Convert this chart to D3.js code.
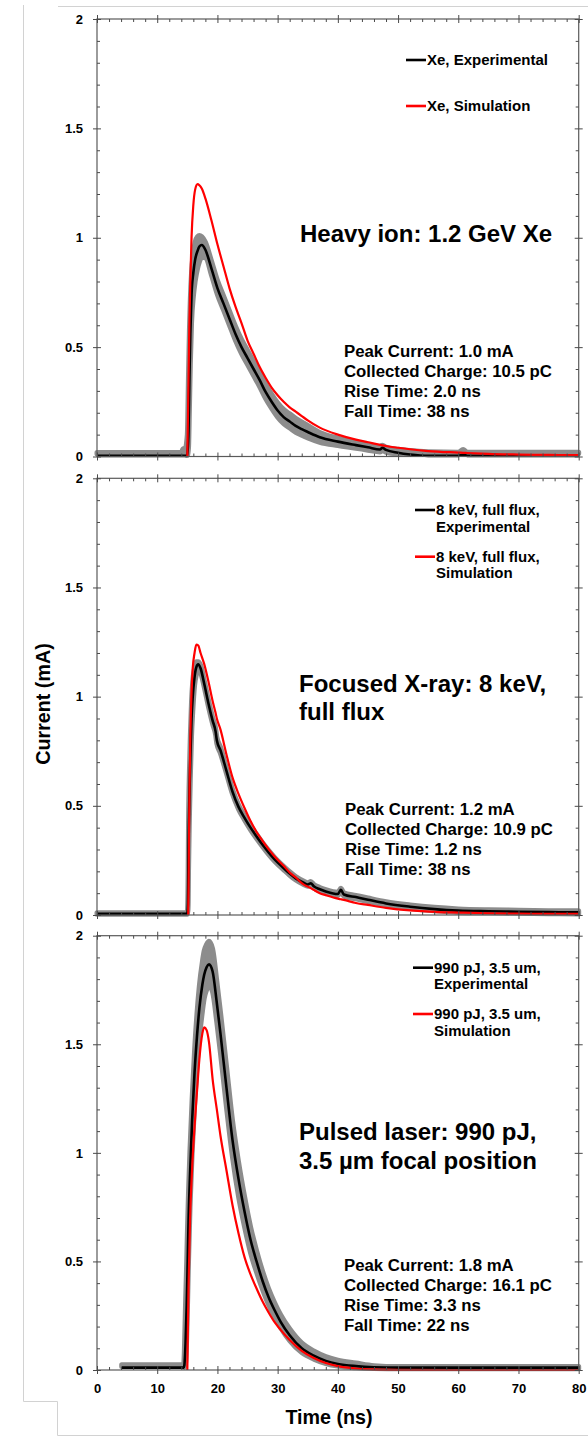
<!DOCTYPE html>
<html>
<head>
<meta charset="utf-8">
<script src="https://cdn.jsdelivr.net/npm/d3@7"></script>
<style>
  body { margin: 0; background: #fff; }
  svg { display: block; font-family: "Liberation Sans", Arial, sans-serif; font-weight: bold; }
</style>
</head>
<body>
<svg id="chart" width="588" height="1446"></svg>
<script>
// ---------- Heavy ion: 1.2 GeV Xe ----------
const timeXe = [0, 14.0, 14.3, 14.6, 15.0, 15.2, 15.35, 15.5, 15.7, 16.0, 16.3, 16.7, 17.0, 17.4,
  18, 19, 20, 21, 22, 23, 24, 25, 26, 27, 28, 29, 30, 31, 32, 33, 34, 35, 37, 40, 43, 45, 47, 47.4,
  48, 50, 52, 55, 60, 60.8, 61.5, 65, 70, 75, 80];
const expXe = [0.003, 0.003, 0.003, 0.003, 0.005, 0.12, 0.36, 0.56, 0.74, 0.84, 0.90, 0.94, 0.96, 0.967,
  0.945, 0.86, 0.77, 0.70, 0.63, 0.56, 0.50, 0.45, 0.40, 0.35, 0.295, 0.25, 0.21, 0.18, 0.16, 0.14, 0.125, 0.112,
  0.088, 0.068, 0.052, 0.042, 0.032, 0.04, 0.03, 0.017, 0.009, 0.003, 0.003, 0.008, 0.003, 0.003, 0.003, 0.003, 0.003];
const simXe = [null, null, null, null, 0, 0.35, 0.62, 0.80, 1.00, 1.15, 1.22, 1.245, 1.24, 1.225,
  1.18, 1.08, 0.97, 0.87, 0.77, 0.685, 0.61, 0.53, 0.47, 0.41, 0.36, 0.315, 0.28, 0.25, 0.225, 0.205, 0.185, 0.165,
  0.132, 0.10, 0.077, 0.065, 0.053, 0.051, 0.048, 0.04, 0.033, 0.025, 0.018, 0.017, 0.016, 0.012, 0.009, 0.007, 0.006];
const rawHiXe = [0.018, 0.018, 0.035, 0.03, 0.1, 0.38, 0.58, 0.72, 0.84, 0.93, 0.98, 1.005, 1.01, 1.005,
  0.98, 0.895, 0.805, 0.735, 0.665, 0.595, 0.535, 0.485, 0.435, 0.385, 0.33, 0.285, 0.245, 0.215, 0.195, 0.175, 0.158, 0.142,
  0.11, 0.084, 0.066, 0.056, 0.046, 0.052, 0.043, 0.033, 0.027, 0.022, 0.02, 0.032, 0.02, 0.02, 0.02, 0.02, 0.02];
const rawLoXe = [0.012, 0.012, 0.012, 0.01, 0.005, 0.04, 0.22, 0.42, 0.61, 0.73, 0.80, 0.86, 0.89, 0.91,
  0.91, 0.83, 0.74, 0.67, 0.60, 0.53, 0.47, 0.42, 0.37, 0.32, 0.265, 0.22, 0.18, 0.15, 0.13, 0.11, 0.097, 0.085,
  0.065, 0.05, 0.038, 0.029, 0.021, 0.027, 0.019, 0.012, 0.01, 0.012, 0.014, 0.016, 0.014, 0.014, 0.014, 0.014, 0.014];

// ---------- Focused X-ray: 8 keV, full flux ----------
const timeKeV = [0, 15.0, 15.1, 15.15, 15.2, 15.35, 15.5, 15.7, 15.9, 16.2, 16.5, 16.8, 17.2, 17.8,
  18.5, 19.2, 19.7, 19.9, 20.5, 21.5, 22.5, 23.5, 24.5, 25.5, 26.5, 27.5, 28.5, 29.5, 31, 32, 33, 34.3,
  35, 35.5, 36, 37, 38, 40, 40.5, 41, 43, 45, 48, 52, 56, 60, 65, 70, 75, 80];
const expKeV = [0.005, 0.005, 0.05, 0.15, 0.3, 0.55, 0.72, 0.9, 1.0, 1.09, 1.135, 1.148, 1.13, 1.06,
  0.97, 0.89, 0.84, 0.80, 0.755, 0.66, 0.565, 0.495, 0.445, 0.40, 0.36, 0.322, 0.287, 0.255, 0.215, 0.19, 0.168, 0.148,
  0.14, 0.145, 0.132, 0.118, 0.108, 0.096, 0.115, 0.094, 0.082, 0.07, 0.053, 0.038, 0.027, 0.02, 0.017, 0.015, 0.013, 0.012];
const simKeV = [null, null, null, 0, 0.12, 0.55, 0.82, 1.02, 1.13, 1.2, 1.238, 1.235, 1.2, 1.15,
  1.07, 0.98, 0.925, 0.90, 0.85, 0.735, 0.63, 0.555, 0.49, 0.43, 0.38, 0.34, 0.302, 0.268, 0.225, 0.195, 0.172, 0.14,
  0.13, 0.123, 0.115, 0.1, 0.091, 0.075, 0.072, 0.069, 0.055, 0.046, 0.033, 0.021, 0.014, 0.011, 0.008, 0.006, 0.005, 0.005];
const rawHiKeV = [0.01, 0.01, 0.1, 0.25, 0.42, 0.66, 0.82, 0.98, 1.07, 1.13, 1.16, 1.16, 1.145, 1.075,
  0.985, 0.905, 0.855, 0.815, 0.77, 0.672, 0.576, 0.505, 0.455, 0.41, 0.37, 0.331, 0.296, 0.264, 0.223, 0.198, 0.176, 0.156,
  0.148, 0.153, 0.14, 0.126, 0.116, 0.104, 0.122, 0.102, 0.09, 0.078, 0.061, 0.046, 0.035, 0.028, 0.024, 0.022, 0.02, 0.019];
const rawLoKeV = [0.003, 0.003, 0.02, 0.06, 0.2, 0.45, 0.63, 0.82, 0.93, 1.05, 1.1, 1.125, 1.11, 1.045,
  0.955, 0.875, 0.825, 0.785, 0.74, 0.648, 0.554, 0.485, 0.435, 0.39, 0.35, 0.313, 0.278, 0.246, 0.207, 0.182, 0.16, 0.14,
  0.132, 0.137, 0.124, 0.11, 0.1, 0.088, 0.107, 0.086, 0.074, 0.062, 0.045, 0.03, 0.019, 0.012, 0.01, 0.008, 0.006, 0.005];

// ---------- Pulsed laser: 990 pJ, 3.5 um focal position ----------
const timeLaser = [4.1, 14.4, 14.5, 14.7, 14.9, 15.0, 15.1, 15.2, 15.45, 15.8, 16.2, 16.6, 17.0, 17.5, 17.8,
  18.2, 18.6, 19.2, 19.9, 20.5, 21.5, 22.5, 23.5, 24.5, 25.5, 26.5, 27.5, 28.5, 29.5, 30.5,
  32, 34, 36, 38, 40, 43, 46, 50, 60, 70, 80];
const expLaser = [0.011, 0.011, 0.02, 0.12, 0.3, 0.42, 0.55, 0.68, 0.9, 1.15, 1.37, 1.535, 1.665, 1.775, 1.82,
  1.855, 1.868, 1.835, 1.69, 1.55, 1.30, 1.06, 0.88, 0.73, 0.60, 0.50, 0.41, 0.335, 0.275, 0.222,
  0.16, 0.10, 0.066, 0.042, 0.028, 0.018, 0.013, 0.011, 0.011, 0.011, 0.011];
const simLaser = [null, null, null, null, null, 0, 0.2, 0.38, 0.69, 0.93, 1.12, 1.28, 1.43, 1.55, 1.578,
  1.565, 1.51, 1.34, 1.2, 1.08, 0.92, 0.76, 0.63, 0.52, 0.44, 0.375, 0.315, 0.265, 0.22, 0.185,
  0.138, 0.088, 0.055, 0.032, 0.018, 0.007, 0.003, 0.001, 0, 0, 0];
const rawHiLaser = [0.024, 0.024, 0.08, 0.3, 0.5, 0.62, 0.72, 0.82, 1.02, 1.25, 1.47, 1.64, 1.77, 1.88, 1.93,
  1.96, 1.975, 1.94, 1.79, 1.65, 1.40, 1.15, 0.96, 0.80, 0.66, 0.55, 0.455, 0.375, 0.31, 0.255,
  0.19, 0.125, 0.088, 0.062, 0.045, 0.032, 0.02, 0.016, 0.016, 0.016, 0.016];
const rawLoLaser = [0.016, 0.016, 0.012, 0.03, 0.15, 0.26, 0.38, 0.5, 0.75, 1.0, 1.22, 1.4, 1.53, 1.65, 1.71,
  1.75, 1.77, 1.74, 1.6, 1.46, 1.21, 0.98, 0.80, 0.66, 0.54, 0.45, 0.37, 0.30, 0.245, 0.195,
  0.135, 0.08, 0.05, 0.03, 0.018, 0.01, 0.007, 0.006, 0.006, 0.006, 0.006];

// ---------- Axis ticks ----------
const yMajorTicks = [0, 0.5, 1, 1.5, 2];
const yMinorTicks = [0.1, 0.2, 0.3, 0.4, 0.6, 0.7, 0.8, 0.9, 1.1, 1.2, 1.3, 1.4, 1.6, 1.7, 1.8, 1.9];
const xMajorTicks = [0, 10, 20, 30, 40, 50, 60, 70, 80];
const xMinorTicks = [2, 4, 6, 8, 12, 14, 16, 18, 22, 24, 26, 28, 32, 34, 36, 38, 42, 44, 46, 48,
  52, 54, 56, 58, 62, 64, 66, 68, 72, 74, 76, 78];

const panels = [
  {
    time: timeXe, exp: expXe, sim: simXe, hi: rawHiXe, lo: rawLoXe,
    top: 19, bottom: 456.5, xLabels: false,
    legend: [
      { color: "#000", lines: ["Xe, Experimental"], y: 60, x0: 406 },
      { color: "#f00", lines: ["Xe, Simulation"], y: 106, x0: 406 }
    ],
    title: { x: 300, y: 241.5, lines: ["Heavy ion: 1.2 GeV Xe"] },
    stats: { x: 344, y: 356.7, lines: ["Peak Current: 1.0 mA", "Collected Charge: 10.5 pC", "Rise Time: 2.0 ns", "Fall Time: 38 ns"] }
  },
  {
    time: timeKeV, exp: expKeV, sim: simKeV, hi: rawHiKeV, lo: rawLoKeV,
    top: 478.3, bottom: 915, xLabels: false,
    legend: [
      { color: "#000", lines: ["8 keV, full flux,", "Experimental"], y: 510, x0: 415 },
      { color: "#f00", lines: ["8 keV, full flux,", "Simulation"], y: 556.7, x0: 415 }
    ],
    title: { x: 299, y: 691.7, lines: ["Focused X-ray: 8 keV,", "full flux"] },
    stats: { x: 345, y: 815, lines: ["Peak Current: 1.2 mA", "Collected Charge: 10.9 pC", "Rise Time: 1.2 ns", "Fall Time: 38 ns"] }
  },
  {
    time: timeLaser, exp: expLaser, sim: simLaser, hi: rawHiLaser, lo: rawLoLaser,
    top: 935.7, bottom: 1370, xLabels: true,
    legend: [
      { color: "#000", lines: ["990 pJ, 3.5 um,", "Experimental"], y: 967.7, x0: 413 },
      { color: "#f00", lines: ["990 pJ, 3.5 um,", "Simulation"], y: 1014, x0: 413 }
    ],
    title: { x: 299, y: 1140, lines: ["Pulsed laser: 990 pJ,", "3.5 µm focal position"] },
    stats: { x: 344, y: 1270.7, lines: ["Peak Current: 1.8 mA", "Collected Charge: 16.1 pC", "Rise Time: 3.3 ns", "Fall Time: 22 ns"] }
  }
];

const svg = d3.select("#chart");
const tickColor = "#4a4a4a";

// light page frame behind the figure
svg.append("path")
  .attr("d", "M23.5,5 V1401.5 H57.5 V1435.5 H588")
  .attr("fill", "none").attr("stroke", "#d2d2d2").attr("stroke-width", 1);
svg.append("path")
  .attr("d", "M58,6.5 H588")
  .attr("fill", "none").attr("stroke", "#d2d2d2").attr("stroke-width", 1);

const x = d3.scaleLinear().domain([0, 80]).range([97, 578.7]);

function styleAxis(sel, showText) {
  sel.attr("font-family", null).attr("font-size", null);
  sel.select(".domain").remove();
  sel.selectAll(".tick line").attr("stroke", tickColor).attr("stroke-width", 1);
  if (showText) {
    sel.selectAll(".tick text")
      .attr("font-size", 13).style("font-weight", "bold").attr("fill", "#000");
  } else {
    sel.selectAll(".tick text").remove();
  }
}

panels.forEach(p => {
  const y = d3.scaleLinear().domain([0, 2]).range([p.bottom, p.top]);
  const g = svg.append("g");
  const rows = p.time.map((t, i) => ({ t, e: p.exp[i], s: p.sim[i], hi: p.hi[i], lo: p.lo[i] }));

  // measured spread (gray)
  const band = d3.area()
    .x(d => x(d.t)).y0(d => y(d.lo)).y1(d => y(d.hi))
    .curve(d3.curveMonotoneX);
  g.append("path").datum(rows).attr("d", band)
    .attr("fill", "#8c8c8c").attr("stroke", "#8c8c8c")
    .attr("stroke-width", 5).attr("stroke-linejoin", "round");

  // experimental average (black)
  const expLine = d3.line().x(d => x(d.t)).y(d => y(d.e)).curve(d3.curveMonotoneX);
  g.append("path").datum(rows).attr("d", expLine)
    .attr("fill", "none").attr("stroke", "#000").attr("stroke-width", 2.6)
    .attr("stroke-linejoin", "round");

  // simulation (red)
  const simLine = d3.line().defined(d => d.s !== null)
    .x(d => x(d.t)).y(d => y(d.s)).curve(d3.curveMonotoneX);
  g.append("path").datum(rows).attr("d", simLine)
    .attr("fill", "none").attr("stroke", "#ff0000").attr("stroke-width", 2.2)
    .attr("stroke-linejoin", "round");

  // frame
  g.append("rect")
    .attr("x", x(0)).attr("y", y(2))
    .attr("width", x(80) - x(0)).attr("height", y(0) - y(2))
    .attr("fill", "none").attr("stroke", "#5a5a5a").attr("stroke-width", 1.2);

  // left axis
  const left = g.append("g").attr("transform", `translate(${x(0)},0)`);
  left.append("g").call(d3.axisLeft(y).tickValues(yMinorTicks).tickSize(-3)).call(s => styleAxis(s, false));
  left.append("g").call(d3.axisLeft(y).tickValues(yMajorTicks).tickSize(-4)).call(s => styleAxis(s, false));
  left.append("g").call(d3.axisLeft(y).tickValues(yMajorTicks).tickSize(4).tickPadding(10)
    .tickFormat(d => String(d))).call(s => styleAxis(s, true));

  // right axis
  const right = g.append("g").attr("transform", `translate(${x(80)},0)`);
  right.append("g").call(d3.axisRight(y).tickValues(yMinorTicks).tickSize(-3)).call(s => styleAxis(s, false));
  right.append("g").call(d3.axisRight(y).tickValues(yMajorTicks).tickSize(-4)).call(s => styleAxis(s, false));
  right.append("g").call(d3.axisRight(y).tickValues(yMajorTicks).tickSize(4)).call(s => styleAxis(s, false));

  // top axis
  const topAx = g.append("g").attr("transform", `translate(0,${y(2)})`);
  topAx.append("g").call(d3.axisTop(x).tickValues(xMinorTicks).tickSize(-3)).call(s => styleAxis(s, false));
  topAx.append("g").call(d3.axisTop(x).tickValues(xMajorTicks).tickSize(-4)).call(s => styleAxis(s, false));
  topAx.append("g").call(d3.axisTop(x).tickValues(xMajorTicks).tickSize(4)).call(s => styleAxis(s, false));

  // bottom axis
  const bot = g.append("g").attr("transform", `translate(0,${y(0)})`);
  bot.append("g").call(d3.axisBottom(x).tickValues(xMinorTicks).tickSize(-3)).call(s => styleAxis(s, false));
  bot.append("g").call(d3.axisBottom(x).tickValues(xMajorTicks).tickSize(-4)).call(s => styleAxis(s, false));
  bot.append("g").call(d3.axisBottom(x).tickValues(xMajorTicks).tickSize(4).tickPadding(10)
    .tickFormat(d => String(d))).call(s => styleAxis(s, p.xLabels));

  // legend
  p.legend.forEach(item => {
    g.append("line")
      .attr("x1", item.x0).attr("x2", item.x0 + 20)
      .attr("y1", item.y).attr("y2", item.y)
      .attr("stroke", item.color).attr("stroke-width", 2.6);
    const t = g.append("text")
      .attr("x", item.x0 + 21).attr("y", item.y + 5)
      .attr("font-size", 15).attr("fill", "#000");
    item.lines.forEach((ln, i) => {
      t.append("tspan").attr("x", item.x0 + 21).attr("dy", i === 0 ? 0 : 16.7).text(ln);
    });
  });

  // title
  const tt = g.append("text").attr("x", p.title.x).attr("y", p.title.y)
    .attr("font-size", 24).attr("fill", "#000");
  p.title.lines.forEach((ln, i) => {
    tt.append("tspan").attr("x", p.title.x).attr("dy", i === 0 ? 0 : 28.5).text(ln);
  });

  // pulse statistics
  const st = g.append("text").attr("x", p.stats.x).attr("y", p.stats.y)
    .attr("font-size", 16.8).attr("fill", "#000");
  p.stats.lines.forEach((ln, i) => {
    st.append("tspan").attr("x", p.stats.x).attr("dy", i === 0 ? 0 : 20).text(ln);
  });
});

// axis titles
svg.append("text")
  .attr("transform", "translate(50,704) rotate(-90)")
  .attr("text-anchor", "middle")
  .attr("font-size", 19.7).attr("fill", "#000")
  .text("Current (mA)");

svg.append("text")
  .attr("x", 329).attr("y", 1424)
  .attr("text-anchor", "middle")
  .attr("font-size", 19.7).attr("fill", "#000")
  .text("Time (ns)");
</script>
</body>
</html>
